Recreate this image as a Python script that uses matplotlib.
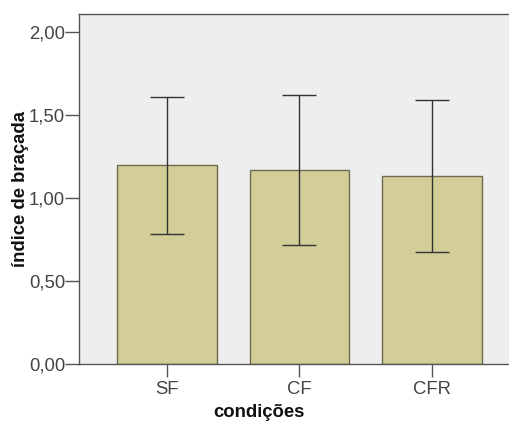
import matplotlib
matplotlib.use("Agg")
import matplotlib.pyplot as plt
import numpy as np

plt.rcParams['font.family'] = ['Liberation Sans', 'DejaVu Sans']

categories = ["SF", "CF", "CFR"]
means = [1.20, 1.17, 1.134]
err_low = [0.785, 0.72, 0.677]
err_high = [1.612, 1.62, 1.59]
yticks = [0.0, 0.5, 1.0, 1.5, 2.0]
ytick_labels = ["0,00", "0,50", "1,00", "1,50", "2,00"]

fig = plt.figure(figsize=(5.09, 4.22), dpi=100)
ax = fig.add_axes([79/509, (422-364.3)/422, (514-79)/509, (364.3-14)/422])
ax.set_facecolor('#EEEEEE')

x = np.arange(len(categories))
m = np.array(means)
yerr = np.vstack([m - np.array(err_low), np.array(err_high) - m])
ax.bar(x, m, width=0.75, color='#D3CE98', edgecolor='#6E6B50', linewidth=1.0, zorder=2)
ax.errorbar(x, m, yerr=yerr, fmt='none', ecolor='#333333', elinewidth=1.0,
            capsize=12.5, capthick=1.0, zorder=3)

ax.set_xlim(-0.665, 2.62)
ax.set_ylim(0, 2.11)
ax.set_yticks(yticks)
ax.set_yticklabels(ytick_labels)
ax.set_xticks(x)
ax.set_xticklabels(categories)

for s in ['left', 'bottom', 'top']:
    ax.spines[s].set_color('#555555')
    ax.spines[s].set_linewidth(1.0)
ax.spines['right'].set_visible(False)

ax.tick_params(axis='y', length=10, width=1, color='#555555', labelsize=13.3, labelcolor='#444444', pad=0)
ax.tick_params(axis='x', length=9, width=1, color='#555555', labelsize=13.3, labelcolor='#444444', pad=3)

ax.set_ylabel('índice de braçada', fontsize=13.3, fontweight='bold', color='#111111')
ax.set_xlabel('condições', fontsize=13.3, fontweight='bold', color='#111111')
ax.yaxis.set_label_coords(-0.115, 0.5)
ax.xaxis.set_label_coords((258.5-79)/435, -0.112)

fig.savefig('out.png', dpi=100, facecolor='white')
